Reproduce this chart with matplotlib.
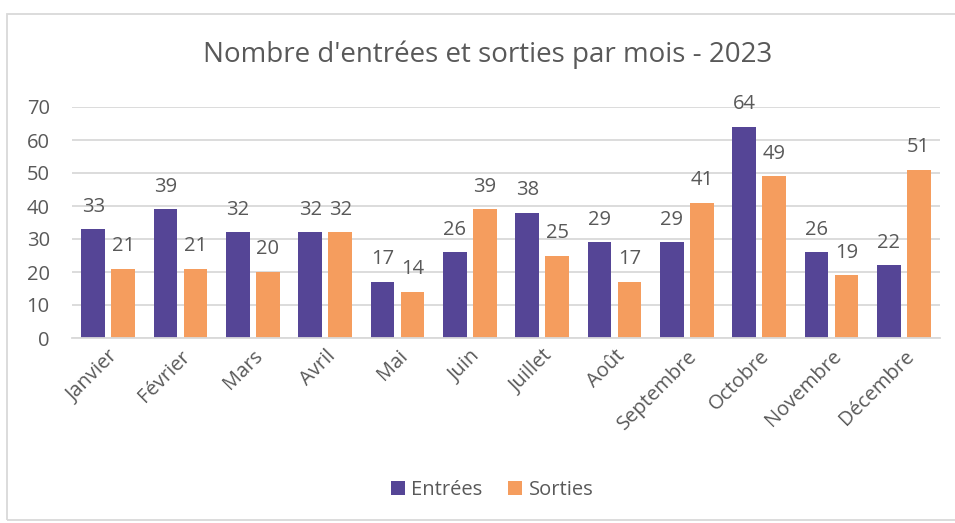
import numpy as np
import matplotlib.pyplot as plt
from matplotlib.patches import Rectangle

mois = ['Janvier', 'Février', 'Mars', 'Avril', 'Mai', 'Juin', 'Juillet', 'Août',
        'Septembre', 'Octobre', 'Novembre', 'Décembre']
entrees = [33, 39, 32, 32, 17, 26, 38, 29, 29, 64, 26, 22]
sorties = [21, 21, 20, 32, 14, 39, 25, 17, 41, 49, 19, 51]

violet = '#554596'
orange = '#F59D5E'
gris_texte = '#595959'
gris_ligne = '#D9D9D9'

plt.rcParams['font.family'] = ['Open Sans', 'DejaVu Sans']

fig = plt.figure(figsize=(9.55, 5.23), dpi=100)
ax = fig.add_axes([72 / 955, 1 - 338 / 523, 868 / 955, 231 / 523])

x = np.arange(len(mois))
w = 0.33
d = 0.207
b1 = ax.bar(x - d, entrees, w, color=violet, label='Entrées')
b2 = ax.bar(x + d, sorties, w, color=orange, label='Sorties')

for bars in (b1, b2):
    for r in bars:
        ax.annotate(str(int(r.get_height())), (r.get_x() + r.get_width() / 2, r.get_height()),
                    xytext=(0, 9), textcoords='offset points', ha='center', va='bottom',
                    fontsize=14.5, color=gris_texte)

ax.set_xlim(-0.5, len(mois) - 0.5)
ax.set_ylim(0, 70)
ax.set_yticks(range(0, 71, 10))
ax.yaxis.grid(True, color=gris_ligne, linewidth=1.3)
ax.set_axisbelow(True)
for s in ['left', 'right', 'top']:
    ax.spines[s].set_visible(False)
ax.spines['bottom'].set_color(gris_ligne)
ax.spines['bottom'].set_linewidth(1.3)
ax.tick_params(length=0, labelsize=14.5, colors=gris_texte)
ax.tick_params(axis='y', pad=16)
ax.tick_params(axis='x', pad=6)
ax.set_xticks(x)
ax.set_xticklabels(mois, rotation=45, ha='right', rotation_mode='anchor')

fig.text(488 / 955, 1 - 55 / 523, "Nombre d'entrées et sorties par mois - 2023",
         ha='center', va='center', fontsize=20, color=gris_texte)

fig.legend(handles=[b1, b2], loc='center', bbox_to_anchor=(492 / 955, 1 - 490 / 523),
           ncol=2, frameon=False, fontsize=14.5, labelcolor=gris_texte,
           handlelength=0.7, handleheight=0.7, columnspacing=1.3, handletextpad=0.3)

fig.patches.append(Rectangle((7 / 955, 3 / 523), 1.2, 506 / 523, transform=fig.transFigure,
                             fill=False, edgecolor=gris_ligne, linewidth=1.3))

fig.savefig('out.png', dpi=100)
